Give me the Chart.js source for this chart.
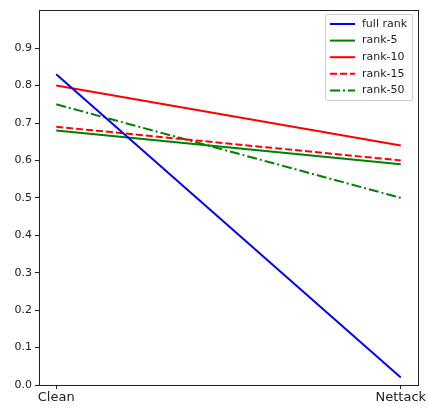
<!DOCTYPE html>
<html>
<head>
<meta charset="utf-8">
<script src="https://cdn.jsdelivr.net/npm/chart.js@4.4.0/dist/chart.umd.min.js"></script>
<style>
  html, body { margin: 0; padding: 0; background: #fff; }
  #wrap { width: 428px; height: 408px; }
</style>
</head>
<body>
<div id="wrap"><canvas id="myChart" width="428" height="408"></canvas></div>
<script>
// data
const categories = ['Clean', 'Nettack'];
const fullRank = [0.83, 0.02];
const rank5 = [0.68, 0.59];
const rank10 = [0.80, 0.64];
const rank15 = [0.69, 0.60];
const rank50 = [0.75, 0.50];
const yTicks = [0, 0.1, 0.2, 0.3, 0.4, 0.5, 0.6, 0.7, 0.8, 0.9];

function pts(arr) {
    return arr.map(function (v, i) { return { x: i, y: v }; });
}

const font = "DejaVu Sans";

// box around the plot + legend like matplotlib
const framePlugin = {
    id: 'frame',
    afterDraw: function (chart) {
        const ctx = chart.ctx;
        const a = chart.chartArea;
        ctx.save();
        ctx.strokeStyle = '#222';
        ctx.lineWidth = 1;
        ctx.setLineDash([]);
        ctx.strokeRect(Math.round(a.left) + 0.5, Math.round(a.top) + 0.5,
            Math.round(a.right - a.left), Math.round(a.bottom - a.top));

        // legend
        const ds = chart.data.datasets;
        const bx = 325, by = 14, bw = 87, bh = 86;
        ctx.fillStyle = 'rgba(255,255,255,0.8)';
        ctx.strokeStyle = '#cccccc';
        ctx.beginPath();
        ctx.roundRect(bx + 0.5, by + 0.5, bw, bh, 2);
        ctx.fill();
        ctx.stroke();
        ctx.font = '11px "' + font + '"';
        ctx.textBaseline = 'middle';
        for (let i = 0; i < ds.length; i++) {
            const y = by + 10 + i * 16.6;
            ctx.strokeStyle = ds[i].borderColor;
            ctx.lineWidth = 2;
            ctx.setLineDash(ds[i].borderDash || []);
            ctx.beginPath();
            ctx.moveTo(bx + 5, y);
            ctx.lineTo(bx + 30, y);
            ctx.stroke();
            ctx.setLineDash([]);
            ctx.fillStyle = '#222';
            ctx.fillText(ds[i].label, bx + 37, y);
        }
        ctx.restore();
    }
};

function line(label, data, color, dash) {
    return {
        label: label,
        data: pts(data),
        borderColor: color,
        backgroundColor: color,
        borderWidth: 2,
        borderDash: dash,
        pointRadius: 0,
        fill: false,
        tension: 0
    };
}

const ctx = document.getElementById('myChart').getContext('2d');
const myChart = new Chart(ctx, {
    type: 'line',
    data: {
        datasets: [
            line('full rank', fullRank, '#0000ff', []),
            line('rank-5', rank5, '#008000', []),
            line('rank-10', rank10, '#ff0000', []),
            line('rank-15', rank15, '#ff0000', [7, 3]),
            line('rank-50', rank50, '#008000', [10, 3, 2, 3])
        ]
    },
    options: {
        responsive: false,
        animation: false,
        layout: { padding: { top: 8, right: 10, left: 0, bottom: 0 } },
        plugins: {
            legend: { display: false },
            tooltip: { enabled: false }
        },
        scales: {
            x: {
                type: 'linear',
                min: -0.05,
                max: 1.05,
                afterBuildTicks: function (scale) {
                    scale.ticks = categories.map(function (c, i) { return { value: i }; });
                },
                afterFit: function (scale) { scale.height = 23; },
                grid: { drawOnChartArea: false, tickLength: 4, color: '#222' },
                border: { display: false },
                ticks: {
                    color: '#222',
                    padding: 1,
                    maxRotation: 0,
                    autoSkip: false,
                    font: { family: font, size: 13 },
                    callback: function (v) { return categories[v]; }
                }
            },
            y: {
                min: 0,
                max: 1.003,
                afterBuildTicks: function (scale) {
                    scale.ticks = yTicks.map(function (v) { return { value: v }; });
                },
                afterFit: function (scale) { scale.width = 39; },
                grid: { drawOnChartArea: false, tickLength: 4, color: '#222' },
                border: { display: false },
                ticks: {
                    color: '#222',
                    padding: 3,
                    autoSkip: false,
                    font: { family: font, size: 11 },
                    callback: function (v) { return v.toFixed(1); }
                }
            }
        }
    },
    plugins: [framePlugin]
});
</script>
</body>
</html>
